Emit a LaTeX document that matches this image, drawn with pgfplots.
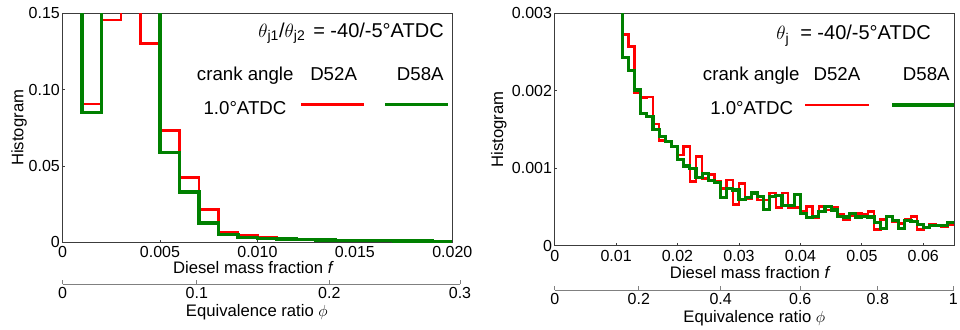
\documentclass[border=0pt]{standalone}
\usepackage{fontspec}
\setmainfont{Liberation Sans}
\usepackage{pgfplots}
\pgfplotsset{compat=1.18}
\definecolor{mred}{RGB}{255,0,0}
\definecolor{mgreen}{RGB}{0,128,0}
\definecolor{axgray}{RGB}{60,60,60}
\definecolor{phigray}{RGB}{128,128,128}
\pgfplotsset{
 mainax/.style={
  scale only axis, anchor=south west,
  axis line style={draw=axgray, line width=0.75pt},
  tick style={draw=axgray, line width=0.6pt},
  major tick length=2pt,
  xtick pos=bottom, ytick pos=left, tick align=inside,
  scaled ticks=false,
  /pgf/number format/assume math mode=true,
  tick label style={font=\fontsize{12}{14}\selectfont},
  yticklabel style={anchor=east, inner sep=0pt, xshift=-1.8pt},
  label style={font=\fontsize{12.5}{15}\selectfont},
 },
 phiax/.style={
  scale only axis, anchor=south west, height=20pt,
  axis x line*=bottom, axis y line=none, ytick=\empty,
  x axis line style={draw=phigray, line width=0.75pt},
  tick style={draw=phigray, line width=0.6pt},
  major tick length=3pt, tick align=inside,
  ymin=0, ymax=1, scaled ticks=false,
  tick label style={font=\fontsize{12}{14}\selectfont},
  label style={font=\fontsize{12.5}{15}\selectfont},
 },
}
\begin{document}
\begin{tikzpicture}
\useasboundingbox (0,0) rectangle (720pt,246.75pt);
% ---------------- left main axis
\begin{axis}[mainax, at={(46.875pt,65.025pt)}, width=292.35pt, height=171.75pt,
 xmin=0, xmax=0.02, ymin=0, ymax=0.15,
 xtick={0,0.005,0.01,0.015,0.02}, xticklabels={0,0.005,0.010,0.015,0.020},
 ytick={0,0.05,0.1,0.15}, yticklabels={0,0.05,0.10,0.15},
 xticklabel style={anchor=base, yshift=-11.7pt},
 xlabel={Diesel mass fraction \textit{f}}, ylabel={Histogram},
 xlabel style={at={([yshift=-23.3pt]axis description cs:0.49,0)}, anchor=base},
 ylabel style={at={([xshift=-32.6pt]axis description cs:0,0.5)}, anchor=center}]
\addplot[mred, line width=2pt, const plot] table {
x y
0 0.3
0.001 0.0905
0.002 0.1456
0.003 0.3
0.004 0.1302
0.005 0.0734
0.006 0.0424
0.007 0.0215
0.008 0.0068
0.009 0.0044
0.010 0.0033
0.011 0.0026
0.012 0.0020
0.013 0.0015
0.014 0.0012
0.015 0.0010
0.016 0.0009
0.017 0.0007
0.018 0.0006
0.019 0.0005
0.020 0.0005
};
\addplot[mgreen, line width=2.4pt, const plot] table {
x y
0 0.3
0.001 0.0852
0.002 0.3
0.003 0.3
0.004 0.3
0.005 0.0589
0.006 0.0329
0.007 0.0127
0.008 0.0050
0.009 0.0030
0.010 0.0024
0.011 0.0021
0.012 0.0019
0.013 0.0015
0.014 0.0013
0.015 0.0012
0.016 0.0011
0.017 0.0009
0.018 0.0008
0.019 0.0007
0.020 0.0007
};
\addplot[mred, line width=2pt, forget plot] coordinates {(0.012237,0.09039) (0.015470,0.09039)};
\addplot[mgreen, line width=2.4pt, forget plot] coordinates {(0.016547,0.09039) (0.019779,0.09039)};
\end{axis}
% ---------------- left phi axis
\begin{axis}[phiax, at={(46.875pt,33.75pt)}, width=298.125pt, xmin=0, xmax=0.020395,
 xtick={0,0.006892,0.013689,0.020394}, xticklabels={0,0.1,0.2,0.3},
 xticklabel style={anchor=base, yshift=-10.7pt},
 xlabel={Equivalence ratio $\phi$},
 xlabel style={at={([yshift=-24pt]axis description cs:0.489,0)}, anchor=base}]
\end{axis}
% ---------------- right main axis
\begin{axis}[mainax, at={(416.025pt,62.475pt)}, width=299.475pt, height=174.3pt,
 xmin=0, xmax=0.065, ymin=0, ymax=0.003,
 xtick={0,0.01,0.02,0.03,0.04,0.05,0.06}, xticklabels={0,0.01,0.02,0.03,0.04,0.05,0.06},
 ytick={0,0.001,0.002,0.003}, yticklabels={0,0.001,0.002,0.003},
 xticklabel style={anchor=base, yshift=-12pt},
 xlabel={Diesel mass fraction \textit{f}}, ylabel={Histogram},
 xlabel style={at={([yshift=-24.5pt]axis description cs:0.49,0)}, anchor=base},
 ylabel style={at={([xshift=-41.9pt]axis description cs:0,0.5)}, anchor=center}]
\addplot[mred, line width=2pt, const plot] table {
x y
0.010 0.01
0.011 0.00273
0.012 0.00257
0.013 0.00197
0.014 0.00191
0.015 0.00192
0.016 0.00157
0.017 0.00136
0.018 0.00134
0.019 0.00128
0.020 0.00117
0.021 0.00128
0.022 0.00083
0.023 0.00115
0.024 0.00087
0.025 0.00092
0.026 0.00083
0.027 0.00074
0.028 0.00085
0.029 0.00053
0.030 0.00080
0.031 0.00061
0.032 0.00068
0.033 0.00059
0.034 0.00059
0.035 0.00068
0.036 0.00049
0.037 0.00068
0.038 0.00049
0.039 0.00049
0.040 0.00044
0.041 0.00051
0.042 0.00036
0.043 0.00051
0.044 0.00046
0.045 0.00049
0.046 0.00040
0.047 0.00034
0.048 0.00039
0.049 0.00042
0.050 0.00040
0.051 0.00044
0.052 0.00021
0.053 0.00034
0.054 0.00038
0.055 0.00031
0.056 0.00029
0.057 0.00034
0.058 0.00038
0.059 0.00021
0.060 0.00023
0.061 0.00027
0.062 0.00026
0.063 0.00025
0.064 0.00027
0.065 0.00027
};
\addplot[mgreen, line width=2.4pt, const plot] table {
x y
0.010 0.01
0.011 0.00243
0.012 0.00226
0.013 0.00201
0.014 0.00171
0.015 0.00167
0.016 0.00150
0.017 0.00141
0.018 0.00135
0.019 0.00128
0.020 0.00111
0.021 0.00103
0.022 0.00100
0.023 0.00088
0.024 0.00093
0.025 0.00084
0.026 0.00082
0.027 0.00062
0.028 0.00074
0.029 0.00072
0.030 0.00060
0.031 0.00062
0.032 0.00068
0.033 0.00064
0.034 0.00047
0.035 0.00063
0.036 0.00065
0.037 0.00052
0.038 0.00052
0.039 0.00066
0.040 0.00042
0.041 0.00036
0.042 0.00038
0.043 0.00044
0.044 0.00051
0.045 0.00046
0.046 0.00038
0.047 0.00037
0.048 0.00042
0.049 0.00037
0.050 0.00038
0.051 0.00037
0.052 0.00030
0.053 0.00022
0.054 0.00038
0.055 0.00033
0.056 0.00022
0.057 0.00033
0.058 0.00031
0.059 0.00027
0.060 0.00024
0.061 0.00026
0.062 0.00026
0.063 0.00026
0.064 0.00030
0.065 0.00030
};
\addplot[mred, line width=2pt, forget plot] coordinates {(0.040746,0.001816) (0.051164,0.001816)};
\addplot[mgreen, line width=2.4pt, forget plot] coordinates {(0.054907,0.001816) (0.065,0.001816)};
\end{axis}
% ---------------- right phi axis
\begin{axis}[phiax, at={(416.025pt,29.25pt)}, width=299.475pt, xmin=0, xmax=0.065,
 xtick={0,0.013689,0.027009,0.039973,0.052597,0.064893}, xticklabels={0,0.2,0.4,0.6,0.8,1},
 xticklabel style={anchor=base, yshift=-10.5pt},
 xlabel={Equivalence ratio $\phi$},
 xlabel style={at={([yshift=-24.5pt]axis description cs:0.5,0)}, anchor=base}]
\end{axis}
% ---------------- legend texts
\node[anchor=base west, inner sep=0pt, font=\fontsize{15}{18}\selectfont] at (193.5pt,218.775pt) {$\theta$\textsubscript{j1}/$\theta$\textsubscript{j2}};
\node[anchor=base west, inner sep=0pt, font=\fontsize{15}{18}\selectfont] at (234.75pt,218.775pt) {= -40/-5°ATDC};
\node[anchor=base west, inner sep=0pt, font=\fontsize{14}{17}\selectfont] at (147.525pt,186pt) {crank angle};
\node[anchor=base west, inner sep=0pt, font=\fontsize{14}{17}\selectfont] at (232.5pt,186pt) {D52A};
\node[anchor=base west, inner sep=0pt, font=\fontsize{14}{17}\selectfont] at (297.525pt,186pt) {D58A};
\node[anchor=base west, inner sep=0pt, font=\fontsize{14}{17}\selectfont] at (152.475pt,161.025pt) {1.0°ATDC};
\node[anchor=base west, inner sep=0pt, font=\fontsize{15}{18}\selectfont] at (582pt,216.75pt) {$\theta$\textsubscript{j}};
\node[anchor=base west, inner sep=0pt, font=\fontsize{15}{18}\selectfont] at (600pt,216.75pt) {= -40/-5°ATDC};
\node[anchor=base west, inner sep=0pt, font=\fontsize{14}{17}\selectfont] at (527.025pt,186pt) {crank angle};
\node[anchor=base west, inner sep=0pt, font=\fontsize{14}{17}\selectfont] at (609.975pt,186pt) {D52A};
\node[anchor=base west, inner sep=0pt, font=\fontsize{14}{17}\selectfont] at (677.025pt,186pt) {D58A};
\node[anchor=base west, inner sep=0pt, font=\fontsize{14}{17}\selectfont] at (532.5pt,161.025pt) {1.0°ATDC};
\end{tikzpicture}
\end{document}
